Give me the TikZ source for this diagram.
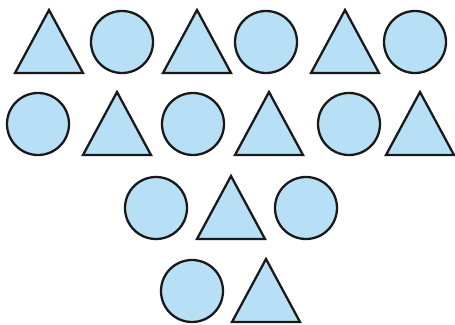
\documentclass[tikz,border=0pt]{standalone}
\usepackage{xcolor}
\definecolor{lightblue}{HTML}{B7DFF5}

\begin{document}
\begin{tikzpicture}[
    x=0.02cm, y=-0.02cm,
    blob/.style={draw=black!90, fill=lightblue, line width=1.3pt, line join=miter},
    tri/.pic={\path[blob] (0,-32) -- (34,31) -- (-34,31) -- cycle;},
    circ/.pic={\path[blob] (0,0) circle[radius=31];}
]
\useasboundingbox (0,0) rectangle (455,324);

% first row
\foreach \x/\s in {49/tri,122/circ,197/tri,266/circ,345/tri,415/circ}
    \pic at (\x,42) {\s};

% second row
\foreach \x/\s in {38/circ,117/tri,193/circ,269/tri,349/circ,420/tri}
    \pic at (\x,124) {\s};

% third row
\foreach \x/\s in {156/circ,231/tri,306/circ}
    \pic at (\x,208) {\s};

% fourth row
\foreach \x/\s in {192/circ,266/tri}
    \pic at (\x,291) {\s};

\end{tikzpicture}
\end{document}
